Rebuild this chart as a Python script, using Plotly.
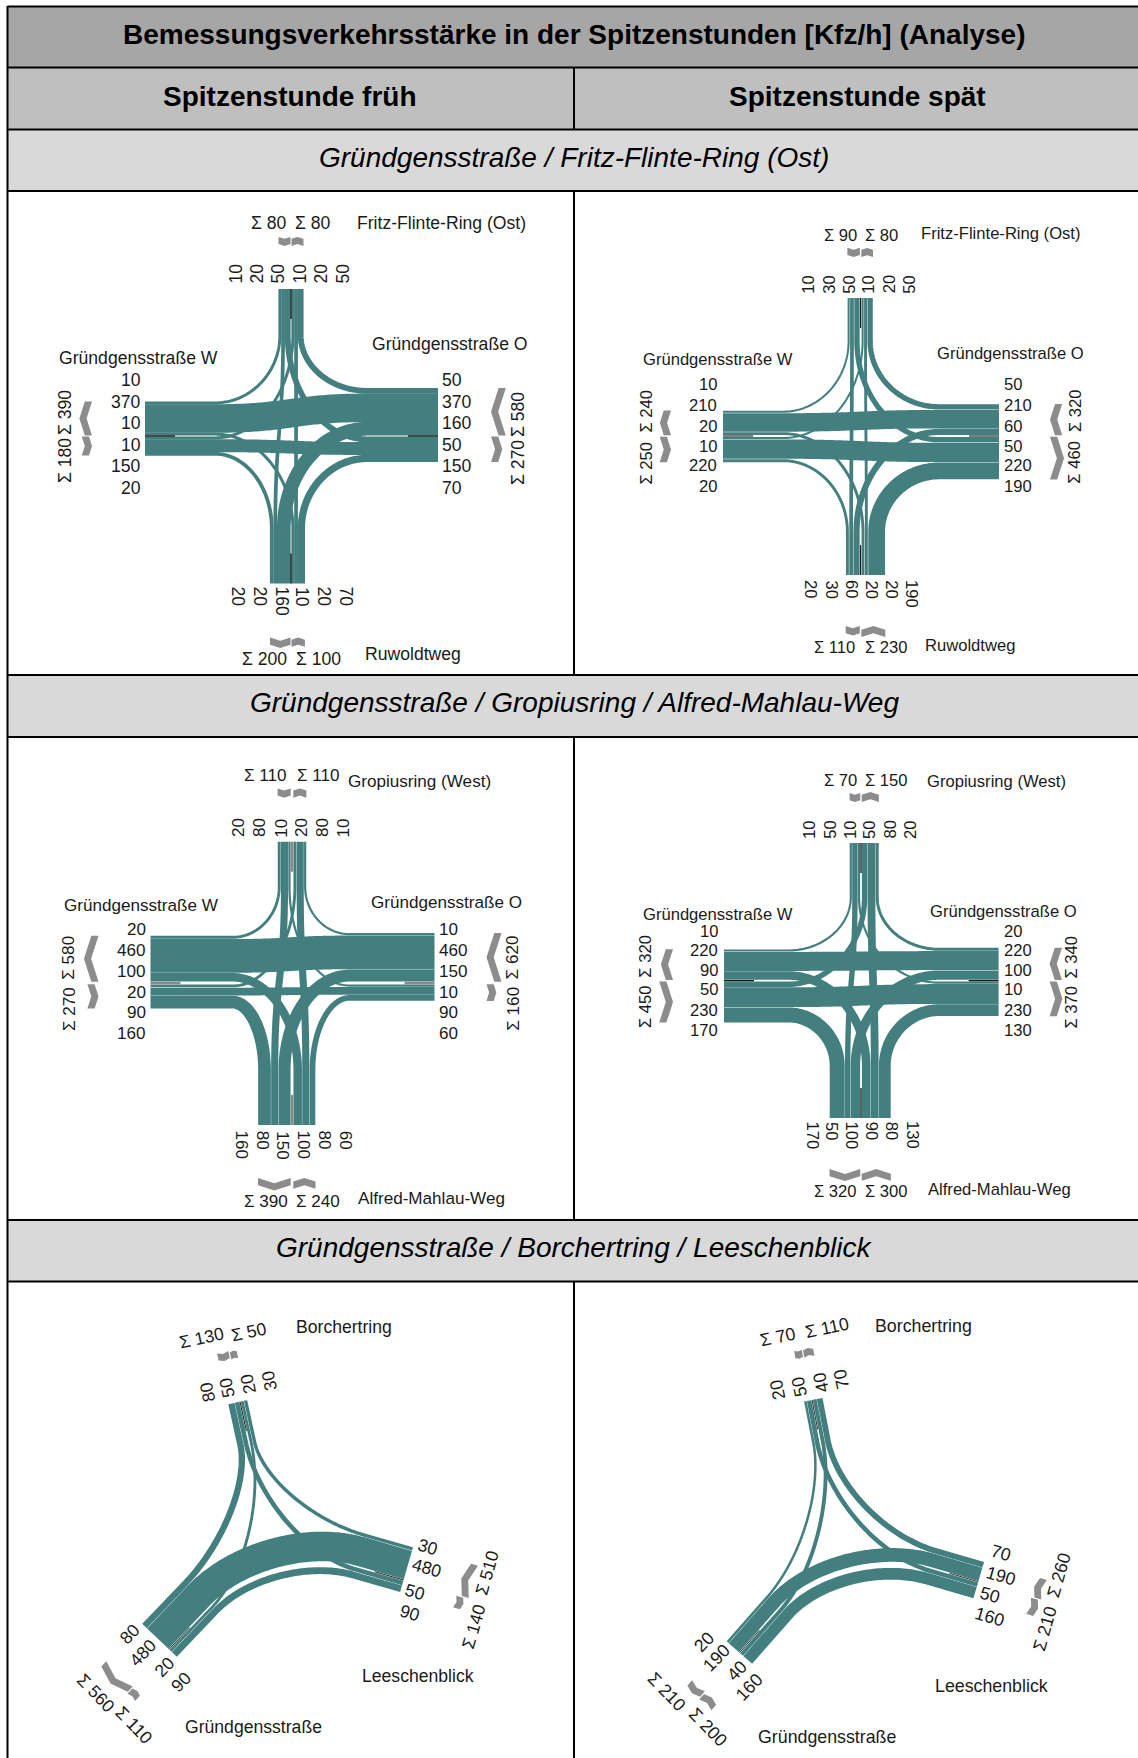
import numpy as np
import plotly.graph_objects as go

W, H = 1138, 1758
TEAL = "#447F7F"
GREY = "#8C8C8C"
FONT = "Liberation Sans"
TXT = "#1a1a1a"

# ---- values: lane labels per arm (as read round each arm) ----
d1_north = [10, 20, 50, 10, 20, 50]
d1_east = [50, 370, 160, 50, 150, 70]
d1_south = [20, 20, 160, 10, 20, 70]
d1_west = [10, 370, 10, 10, 150, 20]

d2_north = [10, 30, 50, 10, 20, 50]
d2_east = [50, 210, 60, 50, 220, 190]
d2_south = [20, 30, 60, 20, 20, 190]
d2_west = [10, 210, 20, 10, 220, 20]

d3_north = [20, 80, 10, 20, 80, 10]
d3_east = [10, 460, 150, 10, 90, 60]
d3_south = [160, 80, 150, 100, 80, 60]
d3_west = [20, 460, 100, 20, 90, 160]

d4_north = [10, 50, 10, 50, 80, 20]
d4_east = [20, 220, 100, 10, 230, 130]
d4_south = [170, 50, 100, 90, 80, 130]
d4_west = [10, 220, 90, 50, 230, 170]

d5_north = [80, 50, 20, 30]
d5_east = [30, 480, 50, 90]
d5_southwest = [80, 480, 20, 90]

d6_north = [20, 50, 40, 70]
d6_east = [70, 190, 50, 160]
d6_southwest = [20, 190, 40, 160]

title_text = "Bemessungsverkehrsstärke in der Spitzenstunden [Kfz/h] (Analyse)"
col_titles = ["Spitzenstunde früh", "Spitzenstunde spät"]
row_titles = ["Gründgensstraße / Fritz-Flinte-Ring (Ost)",
              "Gründgensstraße / Gropiusring / Alfred-Mahlau-Weg",
              "Gründgensstraße / Borchertring / Leeschenblick"]

# ---- layout constants ----
CROSS = [
    dict(vals=(d1_north, d1_east, d1_south, d1_west), c=(291, 436), ends=(289, 438, 583.5, 145), fs=17.6,
         k=.071, b=2.1, gap=1.0, trim=-.2, lead=(46, 71, 55, 70), cg=(43, 53, 54, 53), med=("#000", 1.2),
         ly=[380, 402, 423, 445, 466, 488], lxW=142, lxE=441,
         nx=[236, 257, 278, 300, 321, 343], nb=284.6, sx=[238, 260, 282, 302.5, 324, 346], st=585.5,
         st_top=((269, 223), (313, 223)), st_bot=((264, 659), (318, 659)),
         st_w=(65, 413, 461), st_e=(518, 415, 463),
         names=[("Fritz-Flinte-Ring (Ost)", 356, 223), ("Gründgensstraße W", 58, 358),
                ("Gründgensstraße O", 371, 343.5), ("Ruwoldtweg", 363.6, 654)]),
    dict(vals=(d2_north, d2_east, d2_south, d2_west), c=(860.6, 436), ends=(298, 999, 575, 723), fs=16.6,
         k=.082, b=1.7, gap=1.5, trim=.45, lead=(43, 60, 43, 60), cg=(41, 51, 51, 52), med=("#000", 1),
         ly=[384, 405, 426, 446, 465, 486], lxW=718, lxE=1002.7,
         nx=[809, 830, 850, 869, 889.6, 910], nb=294.7, sx=[811, 831.6, 852, 871.5, 891.7, 912], st=579,
         st_top=((840, 235), (881.6, 235)), st_bot=((834.5, 647), (886, 647)),
         st_w=(646.8, 410.7, 462.7), st_e=(1075, 411, 462.7),
         names=[("Fritz-Flinte-Ring (Ost)", 920.4, 233), ("Gründgensstraße W", 641.5, 359),
                ("Gründgensstraße O", 936, 353), ("Ruwoldtweg", 924, 645)]),
    dict(vals=(d3_north, d3_east, d3_south, d3_west), c=(292, 983), ends=(841.7, 434.5, 1125, 150.5), fs=17.1,
         k=.07, b=1.8, gap=2.6, trim=.3, lead=(45, 85, 55, 82), cg=(44, 52, 53, 52), med=("#8a8a8a", 2.6),
         ly=[929.3, 950.7, 971.7, 992.7, 1012.7, 1033.3], lxW=146.5, lxE=438,
         nx=[238, 259, 280.7, 301, 322, 342.5], nb=838.5, sx=[241.8, 262.5, 283, 303.6, 324.7, 345.5], st=1129.7,
         st_top=((265.5, 775.7), (318, 775.7)), st_bot=((265.5, 1201), (318, 1201)),
         st_w=(69, 957.7, 1009), st_e=(512.7, 957.7, 1009),
         names=[("Gropiusring (West)", 347.4, 781.7), ("Gründgensstraße W", 63.4, 905),
                ("Gründgensstraße O", 369.5, 902.7), ("Alfred-Mahlau-Weg", 357, 1198)]),
    dict(vals=(d4_north, d4_east, d4_south, d4_west), c=(861, 980.7), ends=(843, 998.6, 1118, 724), fs=16.6,
         k=.08, b=1.7, gap=1.5, trim=.3, lead=(54, 59, 52, 64), cg=(41, 51, 51, 51), med=("#000", 1.2),
         ly=[931, 950.5, 970, 989.7, 1010, 1030], lxW=719, lxE=1003,
         nx=[809, 829.8, 850, 869, 889.6, 910], nb=840, sx=[812, 831.6, 851.9, 871.8, 891.7, 912.4], st=1120.5,
         st_top=((840, 780), (886.3, 780)), st_bot=((835, 1191.7), (886, 1191.7)),
         st_w=(645.4, 956.3, 1006.7), st_e=(1071.8, 956.8, 1006.7),
         names=[("Gropiusring (West)", 925.9, 781.7), ("Gründgensstraße W", 641.5, 914),
                ("Gründgensstraße O", 928.8, 911), ("Alfred-Mahlau-Weg", 927, 1189.3)]),
]

TEE = [
    dict(vals=(d5_north, d5_east, d5_southwest), fs=17.6,
         ends=((240, 1401.7), (403.6, 1580), (169, 1649.3)),
         dirs=((.214, .977), (-.96, -.275), (.69, -.724)),
         k=.058, b=2, gap=1.2, trim=.3, lead=(42, 50, 60), cg=(43, 55, 52), med=("#222", 1),
         labs=(((207.3, 1391.7), (227.3, 1387.3), (248.4, 1383.3), (269, 1380.7)),
               ((428, 1546.7), (427, 1568.3), (415.3, 1592.3), (409.8, 1612.7)),
               ((129.8, 1634), (142.5, 1652.7), (164.7, 1667.3), (181, 1681.7))),
         sig=(((201, 1338.3), (249, 1331.7)), ((487.3, 1573.3), (473.5, 1626.7)), ((95.6, 1693.3), (133.8, 1725))),
         names=[("Borchertring", 295.4, 1327), ("Leeschenblick", 360.8, 1676), ("Gründgensstraße", 184, 1727)]),
    dict(vals=(d6_north, d6_east, d6_southwest), fs=17.8,
         ends=((812, 1400), (978.3, 1581.7), (739.6, 1652.7)),
         dirs=((.19, .98), (-.96, -.28), (.66, -.75)),
         k=.066, b=1.5, gap=1.2, trim=.3, lead=(42, 50, 60), cg=(43, 55, 52), med=("#333", 1),
         labs=(((777.6, 1390), (799, 1386.7), (820.7, 1382.7), (841.7, 1379.3)),
               ((1001, 1553.3), (1001, 1576), (990, 1595), (990, 1616.7)),
               ((704, 1641.7), (716.7, 1658.3), (736.7, 1670.7), (749.3, 1686.7))),
         sig=(((777.6, 1337.3), (826.5, 1328.3)), ((1059, 1575), (1045.4, 1628.3)), ((667, 1691.7), (707.7, 1727.3))),
         names=[("Borchertring", 874, 1326), ("Leeschenblick", 934.2, 1686), ("Gründgensstraße", 757.4, 1736.7)]),
]

fig = go.Figure()
annotations = []


def text(s, x, y, size=15.5, angle=0, xa="center", ya="middle", color=TXT, bold=False, italic=False):
    t = f"<b>{s}</b>" if bold else s
    t = f"<i>{t}</i>" if italic else t
    annotations.append(dict(x=x, y=y, xref="x", yref="y", text=t, showarrow=False, textangle=angle,
                            xanchor=xa, yanchor=ya, borderpad=0,
                            font=dict(family=FONT, size=size, color=color)))


def line(xs, ys, width, color=TEAL):
    fig.add_trace(go.Scatter(x=xs, y=ys, mode="lines", line=dict(color=color, width=width, simplify=False),
                             hoverinfo="skip", showlegend=False))


def poly(pts, color=GREY):
    a = np.array(pts + [pts[0]])
    fig.add_trace(go.Scatter(x=a[:, 0], y=a[:, 1], mode="lines", fill="toself", fillcolor=color,
                             line=dict(width=0, color=color, simplify=False), hoverinfo="skip", showlegend=False))


def bezier(p0, p1, p2, p3, n=64):
    t = np.linspace(0, 1, n)[:, None]
    return (1-t)**3*p0 + 3*(1-t)**2*t*p1 + 3*(1-t)*t**2*p2 + t**3*p3


def lanes(vals, k, b, gap):
    """centre offset and width of each lane from the median outward"""
    o, out = gap/2, []
    for v in vals:
        w = k*v + b
        out.append((o + w/2, w))
        o += w
    return out, o


def flow(arm_a, lane_a, arm_b, lane_b, width, f=.55):
    ea, da, ra, la = arm_a
    eb, db, rb, lb = arm_b
    a0 = ea + ra*lane_a
    b0 = eb - rb*lane_b          # out lanes lie on the left of the inward heading
    a1 = a0 + da*la
    b1 = b0 + db*lb
    if abs(np.dot(da, db)) > .99:
        mid = np.dot(b1 - a1, da)*.5
        c1, c2 = a1 + da*mid, b1 + db*mid
    else:
        m = np.array([da, -db]).T
        s = np.linalg.solve(m, b1 - a1)
        corner = a1 + da*s[0]
        c1, c2 = a1 + (corner-a1)*f, b1 + (corner-b1)*f
    curve = bezier(a1, c1, c2, b1)
    pts = np.vstack([a0, curve, b0])
    line(pts[:, 0], pts[:, 1], max(width, .8))


def chevron(arm, v0, v1, gap_u, outward, t=7.2):
    e, d, r, _ = arm
    w = abs(v1 - v0)
    dep = .16*w
    vm = (v0+v1)/2
    P = lambda u, v: list(e - d*u + r*v)
    if outward:
        poly([P(gap_u, v0), P(gap_u+dep, vm), P(gap_u, v1), P(gap_u+t, v1), P(gap_u+t+dep, vm), P(gap_u+t, v0)])
    else:
        poly([P(gap_u+dep, v0), P(gap_u, vm), P(gap_u+dep, v1), P(gap_u+dep+t, v1), P(gap_u+t, vm), P(gap_u+t+dep, v0)])


def make_arm(end, d, lead):
    e, d = np.array(end, float), np.array(d, float)
    d = d/np.linalg.norm(d)
    return e, d, np.array([-d[1], d[0]]), lead


def draw_network(arms, ins, outs, moves, cfg):
    k, b, gap = cfg["k"], cfg["b"], cfg["gap"]
    for i, arm in enumerate(arms):
        li, si = lanes(ins[i], k, b, gap)
        lo, so = lanes(outs[i], k, b, gap)
        chevron(arm, gap/2, si, cfg["cg"][i], False)
        chevron(arm, -gap/2, -so, cfg["cg"][i], True)
    for i, target in enumerate(moves):
        li, _ = lanes(ins[i], k, b, gap)
        for rank, j in enumerate(target):
            lo, _ = lanes(outs[j], k, b, gap)
            flow(arms[i], li[rank][0], arms[j], lo[rank][0], li[rank][1] - cfg["trim"])
    for arm in arms:
        e, d, _, _ = arm
        p = np.array([e, e + d*30])
        line(p[:, 0], p[:, 1], cfg["med"][1], cfg["med"][0])


# ---- four-arm junctions ----
for cfg in CROSS:
    N, E, S, Wv = cfg["vals"]
    fs = cfg["fs"]
    cx, cy = cfg["c"]
    yn, xe, ys, xw = cfg["ends"]
    arms = [make_arm((cx, yn), (0, 1), cfg["lead"][0]),
            make_arm((xe, cy), (-1, 0), cfg["lead"][1]),
            make_arm((cx, ys), (0, -1), cfg["lead"][2]),
            make_arm((xw, cy), (1, 0), cfg["lead"][3])]
    ins = [N[2::-1], E[2::-1], S[3:], Wv[3:]]          # median -> outer: left, straight, right
    outs = [N[3:], E[3:], S[2::-1], Wv[2::-1]]
    # target of left / straight / right for arms N, E, S, W
    moves = [(1, 2, 3), (2, 3, 0), (3, 0, 1), (0, 1, 2)]
    draw_network(arms, ins, outs, moves, cfg)
    for v, y in zip(Wv, cfg["ly"]):
        text(str(v), cfg["lxW"], y, xa="right", size=fs)
    for v, y in zip(E, cfg["ly"]):
        text(str(v), cfg["lxE"], y, xa="left", size=fs)
    for v, x in zip(N, cfg["nx"]):
        text(str(v), x, cfg["nb"], angle=-90, ya="bottom", size=fs)
    for v, x in zip(S, cfg["sx"]):
        text(str(v), x, cfg["st"], angle=90, ya="top", size=fs)
    for arr, pos in ((N, cfg["st_top"]), (S, cfg["st_bot"])):
        text(f"Σ {sum(arr[:3])}", *pos[0], size=fs)
        text(f"Σ {sum(arr[3:])}", *pos[1], size=fs)
    for arr, pos in ((Wv, cfg["st_w"]), (E, cfg["st_e"])):
        text(f"Σ {sum(arr[:3])}", pos[0], pos[1], angle=-90, size=fs)
        text(f"Σ {sum(arr[3:])}", pos[0], pos[2], angle=-90, size=fs)
    for s, x, y in cfg["names"]:
        text(s, x, y, xa="left", size=fs)

# ---- three-arm junctions ----
for cfg in TEE:
    N, E, SW = cfg["vals"]
    fs = cfg["fs"]
    arms = [make_arm(cfg["ends"][i], cfg["dirs"][i], cfg["lead"][i]) for i in range(3)]
    ins = [N[1::-1], E[1::-1], SW[2:]]
    outs = [N[2:], E[2:], SW[1::-1]]
    # target of left / right for arms N, E, SW
    moves = [(1, 2), (2, 0), (0, 1)]
    draw_network(arms, ins, outs, moves, cfg)
    angs = (-102, 16, -46)
    sangs = (-12, -74, 46)
    for i, arr in enumerate((N, E, SW)):
        for v, p in zip(arr, cfg["labs"][i]):
            text(str(v), p[0], p[1], angle=angs[i], size=fs)
        text(f"Σ {sum(arr[:2])}", *cfg["sig"][i][0], angle=sangs[i], size=fs)
        text(f"Σ {sum(arr[2:])}", *cfg["sig"][i][1], angle=sangs[i], size=fs)
    for s, x, y in cfg["names"]:
        text(s, x, y, xa="left", size=fs)

# ---- table frame ----
LEFT, MID, RIGHT = 7.5, 574, 1140
rows = [(6.5, 67.5, "#A6A6A6"), (67.5, 129.5, "#BFBFBF"), (129.5, 191, "#D9D9D9"),
        (675, 737, "#D9D9D9"), (1220, 1281.5, "#D9D9D9")]
shapes = []
for y0, y1, c in rows:
    shapes.append(dict(type="rect", x0=LEFT, x1=RIGHT, y0=y0, y1=y1, xref="x", yref="y",
                       fillcolor=c, line=dict(width=0), layer="below"))
for y in (6.5, 67.5, 129.5, 191, 675, 737, 1220, 1281.5):
    shapes.append(dict(type="line", x0=LEFT, x1=RIGHT, y0=y, y1=y, xref="x", yref="y",
                       line=dict(color="#000", width=2)))
shapes.append(dict(type="line", x0=LEFT, x1=LEFT, y0=6, y1=H+2, xref="x", yref="y",
                   line=dict(color="#000", width=2)))
for y0, y1 in ((67.5, 129.5), (191, 675), (737, 1220), (1281.5, H+2)):
    shapes.append(dict(type="line", x0=MID, x1=MID, y0=y0, y1=y1, xref="x", yref="y",
                       line=dict(color="#000", width=2)))

text(title_text, 574, 34, size=28, bold=True, color="#000")
text(col_titles[0], 290, 96, size=28, bold=True, color="#000")
text(col_titles[1], 857, 96, size=28, bold=True, color="#000")
for s, y in zip(row_titles, (157.5, 702.5, 1247.5)):
    text(s, 574, y, size=28, italic=True, color="#000")

fig.update_layout(width=W, height=H, margin=dict(l=0, r=0, t=0, b=0), paper_bgcolor="white",
                  plot_bgcolor="white", shapes=shapes, annotations=annotations, showlegend=False,
                  xaxis=dict(range=[0, W], visible=False, fixedrange=True),
                  yaxis=dict(range=[H, 0], visible=False, fixedrange=True))
fig.write_html("out.html", config=dict(displayModeBar=False),
               post_script="document.body.style.margin='0';document.documentElement.style.overflow='hidden';")
